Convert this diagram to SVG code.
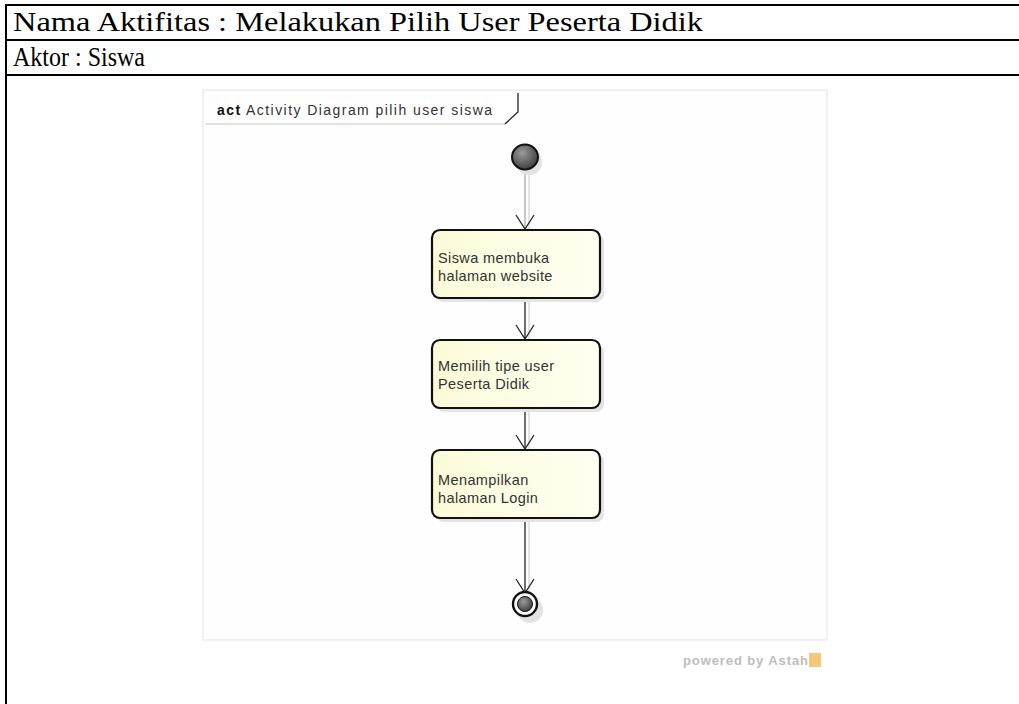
<svg xmlns="http://www.w3.org/2000/svg" width="1019" height="704" viewBox="0 0 1019 704">
  <defs>
    <style>
      .cell { font-family: "Liberation Serif", "Times New Roman", serif; font-size: 27px; fill: #000; }
      .rule { stroke: #000; stroke-width: 2; fill: none; }
      .act { fill: url(#actFill); stroke: #111; stroke-width: 2.2; }
      .actShadow { fill: #e4e4e4; }
      .lbl { font-family: "Liberation Sans", Arial, sans-serif; font-size: 14.5px; fill: #333; letter-spacing: 0.4px; }
      .flow { stroke: #222; stroke-width: 1.3; fill: none; }
      .flowShadow { stroke: #d6d6d6; stroke-width: 1.3; fill: none; }
      .head { stroke: #222; stroke-width: 1.3; fill: none; }
    </style>
    <linearGradient id="actFill" x1="0" y1="0" x2="1" y2="0">
      <stop offset="0" stop-color="#fbfbd8"/>
      <stop offset="1" stop-color="#fffff2"/>
    </linearGradient>
    <radialGradient id="ballFill" cx="0.4" cy="0.35" r="0.7">
      <stop offset="0" stop-color="#9a9a9a"/>
      <stop offset="1" stop-color="#3a3a3a"/>
    </radialGradient>
  </defs>

  <rect width="1019" height="704" fill="#fff"/>

  <!-- table frame -->
  <g id="table">
    <line class="rule" x1="6" y1="5" x2="1019" y2="5"/>
    <line class="rule" x1="6" y1="40" x2="1019" y2="40"/>
    <line class="rule" x1="6" y1="75" x2="1019" y2="75"/>
    <line class="rule" x1="6" y1="4" x2="6" y2="704"/>
    <text class="cell" x="13" y="31" textLength="690" lengthAdjust="spacingAndGlyphs">Nama Aktifitas : Melakukan Pilih User Peserta Didik</text>
    <text class="cell" x="13" y="66" textLength="132" lengthAdjust="spacingAndGlyphs">Aktor : Siswa</text>
  </g>

  <!-- diagram frame -->
  <g id="frame">
    <rect x="203" y="90" width="624" height="550" fill="#fefefe" stroke="#f1f1f1" stroke-width="2"/>
    <path d="M205 124 H505 L518 112 V93" fill="#fff" stroke="none"/>
    <line x1="205" y1="124" x2="505" y2="124" stroke="#d8d8d8" stroke-width="1.5"/>
    <path d="M505 124 L518 112 V93" fill="none" stroke="#222" stroke-width="1.3"/>
    <text x="217" y="115" font-family="Liberation Sans, Arial, sans-serif" font-size="14px" fill="#333" textLength="275" lengthAdjust="spacing"><tspan font-weight="bold" fill="#111">act</tspan> Activity Diagram pilih user siswa</text>
  </g>

  <!-- connectors -->
  <g id="connectors">
    <line class="flowShadow" x1="529" y1="172" x2="529" y2="230"/>
    <line class="flowShadow" x1="529" y1="300" x2="529" y2="340"/>
    <line class="flowShadow" x1="529" y1="410" x2="529" y2="450"/>
    <line class="flowShadow" x1="529" y1="520" x2="529" y2="592"/>
    <line x1="525" y1="170" x2="525" y2="229" stroke="#aaa" stroke-width="1.3"/>
    <path class="head" d="M516 215 L525 229 L534 215"/>
    <line class="flow" x1="525" y1="298" x2="525" y2="339"/>
    <path class="head" d="M516 325 L525 339 L534 325"/>
    <line class="flow" x1="525" y1="408" x2="525" y2="449"/>
    <path class="head" d="M516 435 L525 449 L534 435"/>
    <line class="flow" x1="525" y1="518" x2="525" y2="593"/>
    <path class="head" d="M516 579 L525 593 L534 579"/>
  </g>

  <!-- start node -->
  <g id="start">
    <circle cx="529" cy="162" r="13" fill="#e2e2e2"/>
    <ellipse cx="525" cy="157" rx="13" ry="12.5" fill="url(#ballFill)" stroke="#111" stroke-width="2"/>
  </g>

  <!-- actions -->
  <g id="action1">
    <rect class="actShadow" x="436" y="234" width="168" height="68" rx="8"/>
    <rect class="act" x="432" y="230" width="168" height="68" rx="8"/>
    <text class="lbl" x="438" y="263">Siswa membuka</text>
    <text class="lbl" x="438" y="281">halaman website</text>
  </g>

  <g id="action2">
    <rect class="actShadow" x="436" y="344" width="168" height="68" rx="8"/>
    <rect class="act" x="432" y="340" width="168" height="68" rx="8"/>
    <text class="lbl" x="438" y="371">Memilih tipe user</text>
    <text class="lbl" x="438" y="389">Peserta Didik</text>
  </g>

  <g id="action3">
    <rect class="actShadow" x="436" y="454" width="168" height="68" rx="8"/>
    <rect class="act" x="432" y="450" width="168" height="68" rx="8"/>
    <text class="lbl" x="438" y="485">Menampilkan</text>
    <text class="lbl" x="438" y="503">halaman Login</text>
  </g>

  <!-- final node -->
  <g id="final">
    <circle cx="530" cy="610" r="13" fill="#e2e2e2"/>
    <circle cx="525" cy="604" r="12" fill="#fff" stroke="#111" stroke-width="2.4"/>
    <circle cx="525" cy="604" r="7.5" fill="url(#ballFill)" stroke="#111" stroke-width="1"/>
  </g>

  <!-- footer mark -->
  <g id="footer">
    <text x="683" y="665" font-family="Liberation Sans, Arial, sans-serif" font-size="13px" font-weight="bold" fill="#bdbdbd" textLength="125" lengthAdjust="spacing">powered by Astah</text>
    <rect x="809" y="653" width="12" height="14" fill="#f5c77a"/>
  </g>
</svg>
